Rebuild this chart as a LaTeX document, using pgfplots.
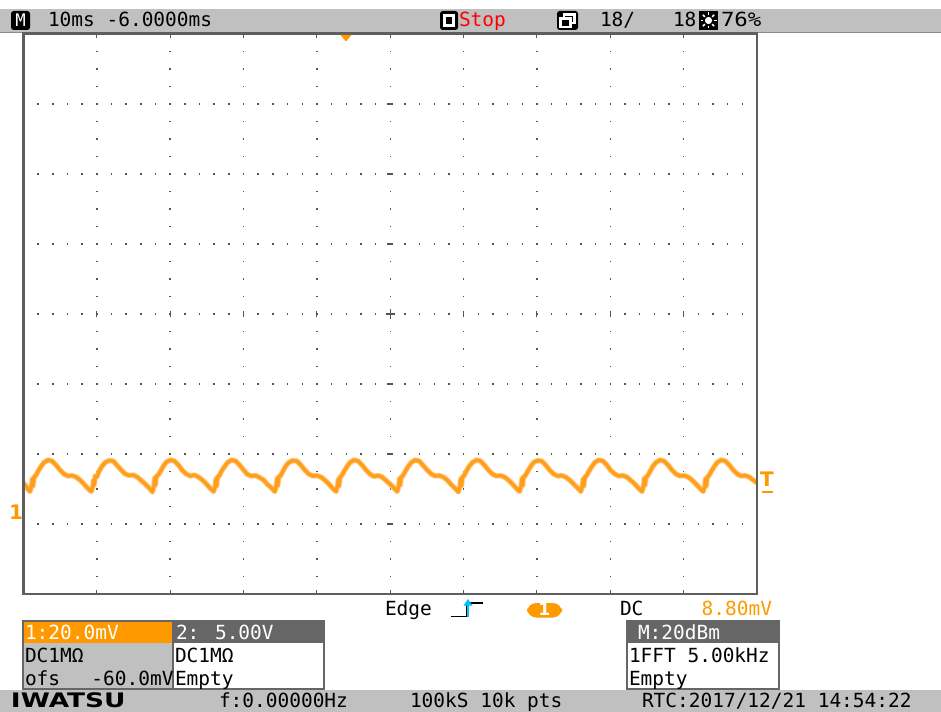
\documentclass[border=0pt]{standalone}
\usepackage{pgfplots}
\pgfplotsset{compat=1.18}
\usepackage{pgfplotstable}
\usepackage{fontspec}
\setmainfont{DejaVu Sans}
\newfontfamily\mono{DejaVu Sans Mono}
\newcommand{\scf}{\mono\fontsize{14.6}{16}\selectfont}
\definecolor{scopeorange}{HTML}{FF9900}
\definecolor{traceorange}{HTML}{FF9E1A}
\definecolor{bargray}{HTML}{C0C0C0}
\definecolor{hdrgray}{HTML}{666666}
\definecolor{gridgray}{HTML}{555555}
\definecolor{framegray}{HTML}{5E5E5E}
\definecolor{trigcyan}{HTML}{00C0FF}
\definecolor{stopred}{HTML}{FF0000}

% trace: pixel x, pixel y
\pgfplotstableread{
px py
23.5 483
26 486
28 489.5
30 491.5
31.5 486
32.3 479
33 486
34 477
35.5 476
38 471.5
41 466.5
44 462.5
48 460
52 461
56 465
60 470
64 474
68 476
72 475.5
76 477
80 480
84 484
88 488.5
91.2 491.5
92.7 487
93.5 480
94.2 485
95.2 476
96.7 477
99.2 471
102.2 466
105.2 462.5
109.2 460.5
113.2 461
117.2 465.5
121.2 470
125.2 474
129.2 475.5
133.2 475
137.2 477
141.2 480.5
145.2 484
149.2 488
152.4 492
153.9 486
154.7 478
155.4 485
156.4 476
157.9 475.5
160.4 471.5
163.4 466
166.4 462
170.4 460
174.4 461
178.4 465
182.4 470.5
186.4 474
190.4 476
194.4 475
198.4 477
202.4 480
206.4 484
210.4 488.5
213.6 491.5
215.1 486.5
215.9 479
216.6 486
217.6 477
219.1 476
221.6 471
224.6 466.5
227.6 462.5
231.6 460
235.6 461
239.6 465
243.6 470
247.6 474.5
251.6 476
255.6 475.5
259.6 477.5
263.6 480
267.6 484.5
271.6 488
274.8 491.5
276.3 486
277.1 478.5
277.8 485.5
278.8 476.5
280.3 476
282.8 471.5
285.8 466
288.8 462.5
292.8 460.5
296.8 461
300.8 465
304.8 470
308.8 474
312.8 476
316.8 475.5
320.8 477
324.8 480
328.8 484
332.8 488.5
336 491.5
337.5 486
338.3 479.5
339 486
340 477
341.5 476
344 471.5
347 466.5
350 462.5
354 460
358 461
362 465
366 470
370 474
374 476.5
378 475.5
382 477
386 480.5
390 484
394 488
397.2 491.5
398.7 486
399.5 478.5
400.2 485
401.2 477
402.7 476
405.2 471.5
408.2 466.5
411.2 462.5
415.2 460
419.2 461
423.2 465.5
427.2 470
431.2 474
435.2 476
439.2 475.5
443.2 477
447.2 480
451.2 484.5
455.2 488.5
458.4 492
459.9 486.5
460.7 479
461.4 486
462.4 477
463.9 476
466.4 471
469.4 466
472.4 462.5
476.4 460
480.4 461
484.4 465
488.4 470
492.4 474
496.4 476
500.4 475.5
504.4 477
508.4 480
512.4 484
516.4 488.5
519.6 491.5
521.1 486
521.9 478.5
522.6 485.5
523.6 476.5
525.1 476
527.6 471.5
530.6 466.5
533.6 462.5
537.6 460.5
541.6 461
545.6 465
549.6 470
553.6 474
557.6 476
561.6 475.5
565.6 477
569.6 480
573.6 484
577.6 488
580.8 491.5
582.3 486
583.1 479
583.8 486
584.8 477
586.3 476
588.8 471.5
591.8 466.5
594.8 462.5
598.8 460
602.8 461
606.8 465
610.8 470.5
614.8 474
618.8 476
622.8 475.5
626.8 477
630.8 480.5
634.8 484
638.8 488.5
642 491.5
643.5 486
644.3 478.5
645 485
646 477
647.5 476
650 471.5
653 466
656 462.5
660 460
664 461
668 465
672 470
676 474
680 476
684 475.5
688 477
692 480
696 484
700 488.5
703.2 491.5
704.7 486
705.5 479
706.2 486
707.2 477
708.7 476
711.2 471.5
714.2 466.5
717.2 462.5
721.2 460
725.2 461
729.2 465
733.2 470
737.2 474
741.2 476
745.2 475.5
749.2 477
753.2 480
757 483
}\trace

\begin{document}
\begin{tikzpicture}
\path[use as bounding box] (0,0) rectangle (705.75pt,-534pt);

\begin{scope}[x=0.75pt,y=-0.75pt]
% top bar
\fill[bargray] (0,8.7) rectangle (941,31.7);
\draw[black!45, line width=1] (0,32.2) -- (941,32.2);
\end{scope}

\begin{axis}[
  at={(17.625pt,-445.5pt)}, anchor=south west,
  scale only axis, width=550.125pt, height=420pt,
  xmin=-50, xmax=50, ymin=-4, ymax=4,
  hide axis,
]
% dotted grid rows
\pgfplotsinvokeforeach{-3,-2,-1,0,1,2,3}{
  \draw[gridgray, line width=1.1pt, dash pattern=on 1.1pt off 9.9025pt]
    ([xshift=-0.55pt]axis cs:-50,#1) -- (axis cs:50,#1);
}
% dotted grid columns
\pgfplotsinvokeforeach{-40,-30,-20,-10,0,10,20,30,40}{
  \draw[gridgray, line width=1.1pt, dash pattern=on 1.1pt off 12.025pt]
    ([yshift=-0.55pt]axis cs:#1,-4) -- (axis cs:#1,4);
  \draw[gridgray, line width=0.8pt] (axis cs:#1,-4) -- ([yshift=3pt]axis cs:#1,-4);
  \draw[gridgray, line width=0.8pt] (axis cs:#1,4) -- ([yshift=-3pt]axis cs:#1,4);
  \draw[gridgray, line width=0.8pt] ([yshift=-2.2pt]axis cs:#1,0) -- ([yshift=2.2pt]axis cs:#1,0);
}
\pgfplotsinvokeforeach{-3,-2,-1,1,2,3}{
  \draw[gridgray, line width=0.8pt] ([xshift=-2.4pt]axis cs:0,#1) -- ([xshift=2.4pt]axis cs:0,#1);
}
\draw[gridgray, line width=0.9pt] ([xshift=-3.5pt]axis cs:0,0) -- ([xshift=3.5pt]axis cs:0,0);
\draw[gridgray, line width=0.9pt] ([yshift=-3.5pt]axis cs:0,0) -- ([yshift=3.5pt]axis cs:0,0);

% the trace (fuzzy band + core)
\addplot[no marks, color=traceorange!45!white, line width=4.6pt, opacity=0.55, line join=round]
  table[x expr=(\thisrowno{0}-390.25)*0.136333, y expr=(314-\thisrowno{1})/70] {\trace};
\addplot[no marks, color=traceorange!75!white, line width=3.4pt, line join=round]
  table[x expr=(\thisrowno{0}-390.25)*0.136333, y expr=(314-\thisrowno{1})/70] {\trace};
\addplot[no marks, color=traceorange, line width=2.2pt, line join=round]
  table[x expr=(\thisrowno{0}-390.25)*0.136333, y expr=(314-\thisrowno{1})/70] {\trace};
\end{axis}

\begin{scope}[x=0.75pt,y=-0.75pt, every node/.style={inner sep=0pt, outer sep=0pt}]
% frame
\draw[framegray, line width=2] (23.5,33.5) rectangle (757,594);

% top bar contents
\fill[black, rounded corners=2] (11,11) rectangle (30,30);
\node[anchor=base, white, font=\mono\fontsize{13}{14}\selectfont] at (20.5,27) {M};
\node[anchor=base west, font=\scf] at (48,27) {10ms -6.0000ms};
\fill[black, rounded corners=2] (440,11) rectangle (458,30);
\draw[white, line width=2.2] (444.5,15.5) rectangle (453.5,25.5);
\node[anchor=base west, text=stopred, font=\scf] at (459,27) {Stop};
\fill[black, rounded corners=2] (557,11) rectangle (578,30);
\draw[white, line width=1.6] (564,14.5) rectangle (574.5,23);
\filldraw[fill=black, draw=white, line width=1.6] (560.5,18.5) rectangle (570.5,27);
\node[anchor=base west, font=\scf] at (600,27) {18/};
\node[anchor=base west, font=\scf] at (673,27) {18};
\fill[black] (699,11) rectangle (718,30);
\fill[white] (708.5,20.5) circle (3.6);
\foreach \a in {0,45,...,315}{\draw[white, line width=1.2] (708.5,20.5) ++(\a:5.2) -- ++(\a:2.8);}
\node[anchor=base west, xscale=1.15, font=\scf] at (721,27) {76\%};

% trigger position marker
\fill[scopeorange] (340.5,35) -- (351.5,35) -- (346,41.5) -- cycle;
% channel 1 ground marker and trigger level
\node[anchor=base, text=scopeorange, font=\bfseries\fontsize{15}{16}\selectfont] at (16,519) {1};
\node[anchor=base, text=scopeorange, font=\bfseries\fontsize{15}{16}\selectfont] at (767,486) {T};
\draw[scopeorange, line width=2] (762,492) -- (773,492);

% trigger row
\node[anchor=base west, font=\scf] at (385,615) {Edge};
\draw[black, line width=1.4] (451,616.5) -- (467,616.5) -- (467,603) -- (483,603);
\draw[trigcyan, line width=1.6] (468,617) -- (468,603);
\fill[trigcyan] (463.5,605.5) -- (472.5,605.5) -- (468,599) -- cycle;
\fill[scopeorange, rounded corners=7] (527,603) rectangle (562,617.5);
\node[anchor=base, white, font=\bfseries\fontsize{13}{14}\selectfont] at (544.5,615.5) {1};
\node[anchor=base west, font=\scf] at (620,615) {DC};
\node[anchor=base east, text=scopeorange, font=\scf] at (772,615) {8.80mV};

% channel panel
\fill[scopeorange] (23,621) rectangle (173,643);
\fill[hdrgray] (173,621) rectangle (324,643);
\fill[bargray] (23,643) rectangle (173,689);
\fill[white] (173,643) rectangle (324,689);
\draw[black!60, line width=1] (23,621) rectangle (324,689);
\draw[black!60, line width=1] (173,621) -- (173,689);
\node[anchor=base west, white, font=\scf] at (25,639) {1:20.0mV};
\node[anchor=base west, white, font=\scf] at (176,639) {2: 5.00V};
\node[anchor=base west, font=\scf] at (25,662) {DC1MΩ};
\node[anchor=base west, font=\scf] at (25,685) {ofs};
\node[anchor=base east, font=\scf] at (173.5,685) {-60.0mV};
\node[anchor=base west, font=\scf] at (175,662) {DC1MΩ};
\node[anchor=base west, font=\scf] at (175,685) {Empty};

% math panel
\fill[hdrgray] (627,621) rectangle (779,643);
\fill[white] (627,643) rectangle (779,689);
\draw[black!60, line width=1] (627,621) rectangle (779,689);
\node[anchor=base west, white, font=\scf] at (638,639) {M:20dBm};
\node[anchor=base west, font=\scf] at (629,662) {1FFT 5.00kHz};
\node[anchor=base west, font=\scf] at (629,685) {Empty};

% bottom bar
\fill[bargray] (0,690) rectangle (941,712);
\node[anchor=base west, xscale=1.32, text depth=0pt, font=\bfseries\fontsize{15}{16}\selectfont] at (11,707.5) {IWATSU};
\node[anchor=base west, font=\scf] at (219,707) {f:0.00000Hz};
\node[anchor=base west, font=\scf] at (410,707) {100kS 10k pts};
\node[anchor=base west, font=\scf] at (642,707) {RTC:2017/12/21 14:54:22};
\end{scope}
\end{tikzpicture}
\end{document}
